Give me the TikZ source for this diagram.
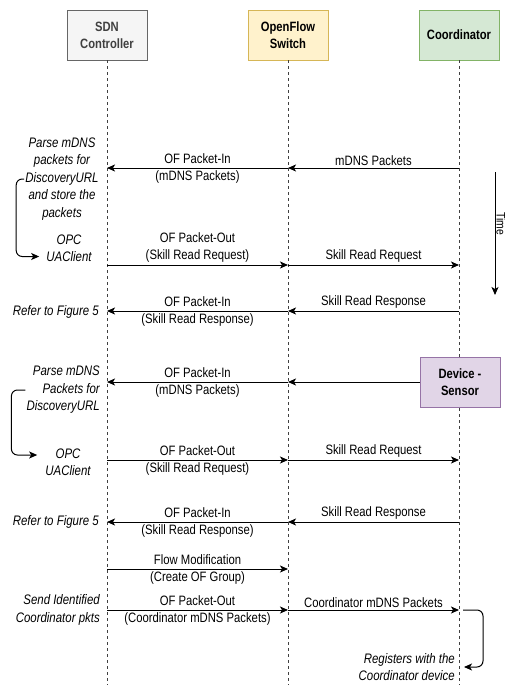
\documentclass[tikz,border=0pt]{standalone}
\usepackage{fontspec}
\setmainfont[FakeStretch=0.83]{Liberation Sans}
\usetikzlibrary{arrows.meta,positioning,calc}
\definecolor{gf}{HTML}{F5F5F5}\definecolor{gs}{HTML}{666666}
\definecolor{yf}{HTML}{FFF2CC}\definecolor{ys}{HTML}{D6B656}
\definecolor{cf}{HTML}{D5E8D4}\definecolor{cs}{HTML}{82B366}
\definecolor{df}{HTML}{E1D5E7}\definecolor{ds}{HTML}{9673A6}
\tikzset{hdr/.style={draw,line width=.9pt,minimum width=80pt,minimum height=50pt,align=center,font=\fontsize{13.5}{17}\selectfont\bfseries},
 life/.style={line width=.7pt,dash pattern=on 3pt off 3pt,black!75},
 msg/.style={-{Stealth[length=8pt,width=7pt,inset=2pt]},line width=1pt},
 lbl/.style={align=center,inner sep=2pt},
 cmt/.style={align=center,inner sep=1pt,font=\fontsize{13.8}{17.5}\selectfont\itshape},
 every node/.style={font=\fontsize{13.6}{17}\selectfont}}
\begin{document}
\begin{tikzpicture}[x=1pt,y=-1pt]
\useasboundingbox (0,0) rectangle (505,685);
% participants and lifelines
\node[hdr,fill=gf,draw=gs,text=black!75] (sdn) at (107,35) {SDN\\Controller};
\node[hdr,fill=yf,draw=ys] (ofs) at (288,35) {OpenFlow\\Switch};
\node[hdr,fill=cf,draw=cs] (crd) at (459,35) {Coordinator};
\foreach \n in {sdn,ofs,crd}{\coordinate (\n E) at (\n |- 0,685);\draw[life] (\n) -- (\n E);}
\node[hdr,fill=df,draw=ds] (dev) at (460,382) {Device -\\Sensor};
\foreach \r/\y in {1/168,2/265,3/311,4/382,5/460,6/522,7/569,8/610}{
\coordinate (L\r) at (sdn |- 0,\y);\coordinate (M\r) at (ofs |- 0,\y);\coordinate (R\r) at (crd |- 0,\y);}
% messages
\draw[msg] (R1) -- (M1) node[midway,above,lbl] {mDNS Packets};
\draw[msg] (M1) -- (L1) node[midway,lbl] {OF Packet-In\\(mDNS Packets)};
\draw[msg] (L2) -- (M2) node[midway,above,lbl] {OF Packet-Out\\(Skill Read Request)};
\draw[msg] (M2) -- (R2) node[midway,above,lbl] {Skill Read Request};
\draw[msg] (R3) -- (M3) node[midway,above,lbl] {Skill Read Response};
\draw[msg] (M3) -- (L3) node[midway,lbl] {OF Packet-In\\(Skill Read Response)};
\draw[msg] (dev) -- (M4);
\draw[msg] (M4) -- (L4) node[midway,lbl] {OF Packet-In\\(mDNS Packets)};
\draw[msg] (L5) -- (M5) node[midway,lbl] {OF Packet-Out\\(Skill Read Request)};
\draw[msg] (M5) -- (R5) node[midway,above,lbl] {Skill Read Request};
\draw[msg] (R6) -- (M6) node[midway,above,lbl] {Skill Read Response};
\draw[msg] (M6) -- (L6) node[midway,lbl] {OF Packet-In\\(Skill Read Response)};
\draw[msg] (L7) -- (M7) node[midway,lbl] {Flow Modification\\(Create OF Group)};
\draw[msg] (L8) -- (M8) node[midway,lbl] {OF Packet-Out\\(Coordinator mDNS Packets)};
\draw[msg] (M8) -- (R8) node[midway,above,lbl] {Coordinator mDNS Packets};
% notes
\node[cmt] (p1) at (62,179) {Parse mDNS\\packets for\\DiscoveryURL\\and store the\\packets};
\node[cmt] (u1) at (69,248) {OPC\\UAClient};
\node[cmt,anchor=east] (f1) at (100,312) {Refer to Figure 5};
\node[cmt,align=right,anchor=east] (p2) at (101,390) {Parse mDNS\\Packets for\\DiscoveryURL};
\node[cmt] (u2) at (68,462) {OPC\\UAClient};
\node[cmt,anchor=east] (f2) at (100,522) {Refer to Figure 5};
\node[cmt,align=right,anchor=east] (s1) at (101,610) {Send Identified\\Coordinator pkts};
\node[cmt,align=right,anchor=east] (g1) at (456,667) {Registers with the\\Coordinator device};
\draw[msg,rounded corners=6pt] (p1.west) -- ++(-8,0) |- ([shift={(-6pt,-8.5pt)}]u1.west);
\draw[msg,rounded corners=6pt] (p2.west) -- ++(-14,0) |- ([shift={(-7pt,7pt)}]u2.west);
\draw[msg,rounded corners=6pt] ([xshift=4pt]R8) -- ++(20,0) |- ([xshift=8pt]g1.east);
% time
\coordinate (t0) at (495,172);\coordinate (t1) at (495,295);
\draw[msg] (t0) -- (t1);
\node[rotate=-90,inner sep=0pt,anchor=base,font=\fontsize{12.5}{13}\selectfont] (tm) at (496.5,224) {Time};
\end{tikzpicture}
\end{document}
